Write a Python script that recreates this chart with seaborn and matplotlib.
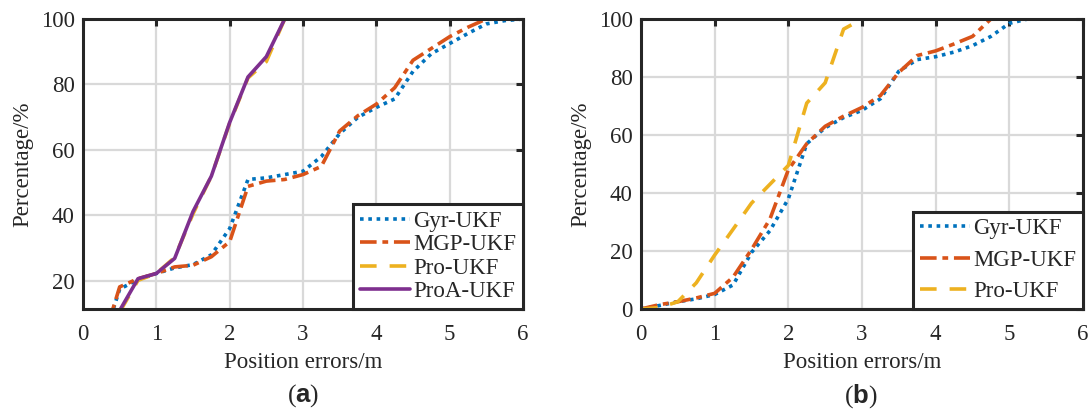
import numpy as np
import pandas as pd
import matplotlib
matplotlib.use("Agg")
import matplotlib.pyplot as plt
import seaborn as sns

# ---------------- data ----------------
x_a = [0, 0.25, 0.5, 0.75, 1.0, 1.25, 1.5, 1.75, 2.0, 2.25, 2.5, 2.75, 3.0,
       3.25, 3.5, 3.75, 4.0, 4.25, 4.5, 4.75, 5.0, 5.25, 5.5, 5.75, 6.0]
gyr_a = [0, 0, 17.5, 20.5, 22.3, 24, 25, 28, 36, 51, 51.5, 52.5, 53.5,
         58, 65, 70, 73, 75.6, 84, 89.4, 92.5, 95.6, 98.5, 99.5, 100]
mgp_a = [0, 0, 18.2, 20.7, 22.3, 24.3, 24.8, 27.4, 32, 48.9, 50.5, 51, 52.5,
         55, 65.8, 70.5, 74, 79, 87.4, 91, 94.6, 97.5, 100, 100, 100]
pro_a = [0, 0, 10.5, 20.2, 22.3, 27.2, 40.5, 52, 68.2, 82, 87, 100, 100,
         100, 100, 100, 100, 100, 100, 100, 100, 100, 100, 100, 100]
proa_a = [0, 0, 11, 20.7, 22.3, 26.9, 41.2, 52, 68.4, 82.3, 88.5, 100, 100,
          100, 100, 100, 100, 100, 100, 100, 100, 100, 100, 100, 100]

x_b = x_a
gyr_b = [0, 1.2, 2.5, 3.5, 5, 8.3, 19.5, 27, 38, 57, 62.5, 66, 68.5,
         72.5, 82, 86, 87, 88.6, 90.8, 94, 98.5, 100, 100, 100, 100]
mgp_b = [0, 1.5, 2.5, 3.8, 5.4, 11, 20.5, 31, 48, 57, 63, 66.5, 69.5,
         73.6, 81.6, 87.4, 89, 91.4, 94, 100, 100, 100, 100, 100, 100]
pro_b = [0, 0.5, 2.5, 9, 18.6, 27.5, 36.5, 43, 49.5, 71, 78, 96.5, 100,
         100, 100, 100, 100, 100, 100, 100, 100, 100, 100, 100, 100]
proa_b = [0, 4.2, 21, 47, 73, 85, 97, 100, 100, 100, 100, 100, 100,
          100, 100, 100, 100, 100, 100, 100, 100, 100, 100, 100, 100]

labels_a = ["Gyr-UKF", "MGP-UKF", "Pro-UKF", "ProA-UKF"]
labels_b = ["Gyr-UKF", "MGP-UKF", "Pro-UKF"]
xticks = [0, 1, 2, 3, 4, 5, 6]
yticks = [0, 20, 40, 60, 80, 100]

# ---------------- style ----------------
sns.set_style("white")
plt.rcParams["font.family"] = ["Liberation Serif", "DejaVu Serif"]
plt.rcParams["mathtext.fontset"] = "custom"
plt.rcParams["mathtext.rm"] = "Liberation Serif"
plt.rcParams["mathtext.bf"] = "Liberation Sans:bold"

TXT = "#262626"
colors = ["#0072BD", "#D95319", "#EDB120", "#7E2F8E"]
styles = [(0, (1, 1.3)), (0, (4.6, 1.6, 1.6, 1.6)), (0, (4.6, 3.6)), "-"]
LW = 2.6
FS = 16.5

fig = plt.figure(figsize=(10.89, 4.12), dpi=100)
ax_a = fig.add_axes([83 / 1089, 1 - 309 / 412, 440 / 1089, 290 / 412])
ax_b = fig.add_axes([641 / 1089, 1 - 309 / 412, 442 / 1089, 290 / 412])


def draw(ax, xs, series, labels, ylim, panel):
    for ys, lab, c, ls in zip(series, labels, colors, styles):
        sns.lineplot(x=xs, y=ys, ax=ax, color=c, linestyle=ls, lw=LW,
                     label=lab, estimator=None, sort=False)
    ax.set_xlim(0, 6)
    ax.set_ylim(*ylim)
    ax.set_xticks(xticks)
    ax.set_yticks([t for t in yticks if t >= ylim[0]])
    ax.grid(True, color="#d9d9d9", lw=1.6)
    ax.set_axisbelow(True)
    for s in ax.spines.values():
        s.set_color(TXT)
        s.set_linewidth(2.2)
    ax.tick_params(direction="in", length=5, width=2.2, color=TXT,
                   top=True, right=True, labelsize=FS, labelcolor=TXT)
    ax.tick_params(axis="y", pad=6)
    ax.tick_params(axis="x", pad=11)
    ax.set_xlabel("Position errors/m", fontsize=FS, color=TXT, labelpad=5)
    ax.set_ylabel("Percentage/%", fontsize=FS, color=TXT, labelpad=5)
    leg = ax.legend(loc="lower right", borderaxespad=0, fontsize=FS,
                    handlelength=2.2, handletextpad=0.12, fancybox=False,
                    framealpha=1, edgecolor=TXT, borderpad=0.3,
                    labelspacing=0.1 if panel == "a" else 0.45)
    leg.get_frame().set_linewidth(2.2)
    for t in leg.get_texts():
        t.set_color(TXT)
    for l in leg.get_lines():
        l.set_linewidth(LW)


draw(ax_a, x_a, [gyr_a, mgp_a, pro_a, proa_a], labels_a, (11.45, 100), "a")
draw(ax_b, x_b, [gyr_b, mgp_b, pro_b], labels_b, (0, 100), "b")

fig.text(303 / 1089, 1 - 396 / 412, r"($\mathbf{a}$)", ha="center", va="center",
         fontsize=FS + 2, color=TXT)
fig.text(861 / 1089, 1 - 396 / 412, r"($\mathbf{b}$)", ha="center", va="center",
         fontsize=FS + 2, color=TXT)

fig.savefig("out.png", dpi=100)
